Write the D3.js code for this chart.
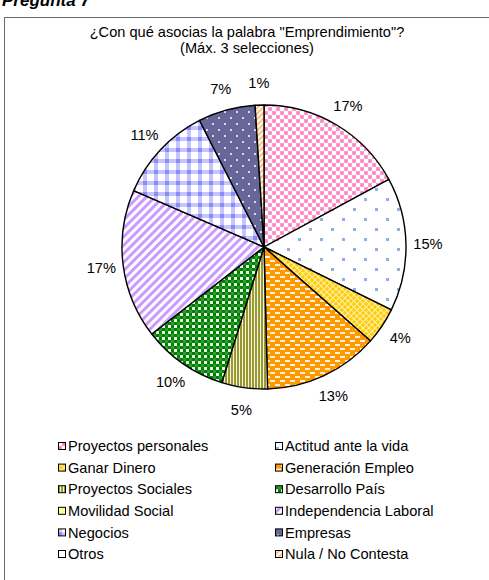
<!DOCTYPE html>
<html>
<head>
<meta charset="utf-8">
<script src="https://cdn.jsdelivr.net/npm/d3@7"></script>
<style>
  body { margin: 0; background: #fff; }
  svg { display: block; font-family: "Liberation Sans", Arial, sans-serif; }
</style>
</head>
<body>
<svg width="489" height="580"></svg>
<script>
// chart data
var categories = ["Proyectos personales", "Actitud ante la vida", "Ganar Dinero", "Generación Empleo",
  "Proyectos Sociales", "Desarrollo País", "Movilidad Social", "Independencia Laboral",
  "Negocios", "Empresas", "Otros", "Nula / No Contesta"];
var values = [17.1, 15.2, 4.2, 13.1, 5.2, 9.7, 0, 17.0, 11.0, 6.5, 0, 1.0];
var patternIds = ["p-pink", "p-dots", "p-yellow", "p-orange", "p-olive", "p-green",
  "p-movil", "p-purple", "p-ging", "p-empresas", "p-otros", "p-nula"];
var titleLines = ['¿Con qué asocias la palabra "Emprendimiento"?', "(Máx. 3 selecciones)"];

var svg = d3.select("svg"),
    width = +svg.attr("width"),
    height = +svg.attr("height");

var fontSize = "14.6px";

var defs = svg.append("defs");

function pat(id, w, h) {
  var p = defs.append("pattern")
    .attr("id", id)
    .attr("patternUnits", "userSpaceOnUse")
    .attr("width", w).attr("height", h);
  return p;
}

// pink squares
var p = pat("p-pink", 8, 8);
p.append("rect").attr("width", 8).attr("height", 8).attr("fill", "#fff");
p.append("rect").attr("x", 0).attr("y", 0).attr("width", 4).attr("height", 4).attr("fill", "#ff9ccf");
p.append("rect").attr("x", 4).attr("y", 4).attr("width", 4).attr("height", 4).attr("fill", "#ff9ccf");
p.append("rect").attr("x", 1).attr("y", 1).attr("width", 2).attr("height", 2).attr("fill", "#ff80c0");
p.append("rect").attr("x", 5).attr("y", 5).attr("width", 2).attr("height", 2).attr("fill", "#ff80c0");

// blue dots on white
p = pat("p-dots", 22, 20);
p.append("rect").attr("width", 22).attr("height", 20).attr("fill", "#fff");
p.append("rect").attr("x", 1).attr("y", 1).attr("width", 3).attr("height", 3).attr("fill", "#8fb0e0");
p.append("rect").attr("x", 12).attr("y", 11).attr("width", 3).attr("height", 3).attr("fill", "#8fb0e0");

// yellow lattice
p = pat("p-yellow", 6, 6);
p.append("rect").attr("width", 6).attr("height", 6).attr("fill", "#ffcc00");
p.append("path").attr("d", "M0,0L6,6M6,0L0,6").attr("stroke", "#ffeeaa").attr("stroke-width", 1.2);

// orange with white dashes
p = pat("p-orange", 10, 8);
p.append("rect").attr("width", 10).attr("height", 8).attr("fill", "#ff9900");
p.append("rect").attr("x", 1).attr("y", 1).attr("width", 5).attr("height", 2).attr("fill", "#fff3dd");
p.append("rect").attr("x", 6).attr("y", 5).attr("width", 5).attr("height", 2).attr("fill", "#fff3dd");
p.append("rect").attr("x", -4).attr("y", 5).attr("width", 5).attr("height", 2).attr("fill", "#fff3dd");

// olive vertical stripes
p = pat("p-olive", 3, 3);
p.append("rect").attr("width", 3).attr("height", 3).attr("fill", "#f4f4dc");
p.append("rect").attr("width", 2).attr("height", 3).attr("fill", "#999933");

// green checker
p = pat("p-green", 6, 6);
p.append("rect").attr("width", 6).attr("height", 6).attr("fill", "#008000");
p.append("rect").attr("x", 0).attr("y", 0).attr("width", 3).attr("height", 3).attr("fill", "#e6f3e6");
p.append("rect").attr("x", 3).attr("y", 3).attr("width", 3).attr("height", 3).attr("fill", "#2f9a2f");

// movilidad social (no slice, legend only)
p = pat("p-movil", 4, 4);
p.append("rect").attr("width", 4).attr("height", 4).attr("fill", "#ffff99");

// purple diagonal stripes
p = pat("p-purple", 6, 6).attr("patternTransform", "rotate(45)");
p.append("rect").attr("width", 6).attr("height", 6).attr("fill", "#fff");
p.append("rect").attr("width", 3).attr("height", 6).attr("fill", "#cc99ff");

// periwinkle gingham
p = pat("p-ging", 11, 11);
p.append("rect").attr("width", 11).attr("height", 11).attr("fill", "#fff");
p.append("rect").attr("x", 0).attr("y", 0).attr("width", 4).attr("height", 11).attr("fill", "#c4c4ff");
p.append("rect").attr("x", 0).attr("y", 0).attr("width", 11).attr("height", 4).attr("fill", "#c4c4ff");
p.append("rect").attr("x", 0).attr("y", 0).attr("width", 4).attr("height", 4).attr("fill", "#8c8cf5");

// empresas: dark slate with white dots
p = pat("p-empresas", 12, 12);
p.append("rect").attr("width", 12).attr("height", 12).attr("fill", "#666699");
p.append("rect").attr("x", 2).attr("y", 2).attr("width", 2).attr("height", 2).attr("fill", "#d8d8ee");
p.append("rect").attr("x", 8).attr("y", 8).attr("width", 2).attr("height", 2).attr("fill", "#d8d8ee");

// otros: plain white
p = pat("p-otros", 4, 4);
p.append("rect").attr("width", 4).attr("height", 4).attr("fill", "#fff");

// nula: orange stripes on white
p = pat("p-nula", 4, 4).attr("patternTransform", "rotate(45)");
p.append("rect").attr("width", 4).attr("height", 4).attr("fill", "#fff8ee");
p.append("rect").attr("width", 1.5).attr("height", 4).attr("fill", "#ffb060");

// outer frame and header above it
svg.append("text")
  .attr("x", 2).attr("y", 6)
  .style("font-size", "17px").style("font-weight", "bold").style("font-style", "italic")
  .text("Pregunta 7");

svg.append("rect")
  .attr("x", 4.5).attr("y", 17.5)
  .attr("width", width + 10).attr("height", height)
  .attr("fill", "none").attr("stroke", "#6b6b6b").attr("stroke-width", 1);

// title
svg.append("g").selectAll("text")
  .data(titleLines)
  .enter().append("text")
  .attr("x", 247)
  .attr("y", (d, i) => 37 + i * 16)
  .attr("text-anchor", "middle")
  .style("font-size", fontSize)
  .text(d => d);

// pie
var cx = 264, cy = 247, radius = 142;
var rows = categories.map((c, i) => ({name: c, value: values[i], pid: patternIds[i]}));

var pie = d3.pie().sort(null).value(d => d.value);
var arc = d3.arc().innerRadius(0).outerRadius(radius);
var labelArc = d3.arc().innerRadius(164).outerRadius(164);

var arcs = pie(rows).filter(d => d.data.value > 0);

var g = svg.append("g").attr("transform", "translate(" + cx + "," + cy + ")");

g.selectAll("path")
  .data(arcs)
  .enter().append("path")
  .attr("d", arc)
  .attr("fill", d => "url(#" + d.data.pid + ")")
  .attr("stroke", "#000")
  .attr("stroke-width", 1.4)
  .attr("stroke-linejoin", "round");

g.selectAll(".lbl")
  .data(arcs)
  .enter().append("text")
  .attr("class", "lbl")
  .attr("transform", d => "translate(" + labelArc.centroid(d) + ")")
  .attr("text-anchor", "middle")
  .attr("dy", "0.35em")
  .style("font-size", fontSize)
  .text(d => Math.round(d.data.value) + "%");

// legend
var legend = svg.append("g");
var item = legend.selectAll("g")
  .data(rows)
  .enter().append("g")
  .attr("transform", (d, i) => "translate(" + (i % 2 ? 275 : 58) + "," + (446 + Math.floor(i / 2) * 21.6) + ")");

item.append("rect")
  .attr("x", 0.5).attr("y", -3.5)
  .attr("width", 7).attr("height", 7)
  .attr("fill", d => "url(#" + d.pid + ")")
  .attr("stroke", "#000").attr("stroke-width", 1);

item.append("text")
  .attr("x", 10)
  .attr("dy", "0.35em")
  .style("font-size", fontSize)
  .text(d => d.name);
</script>
</body>
</html>
